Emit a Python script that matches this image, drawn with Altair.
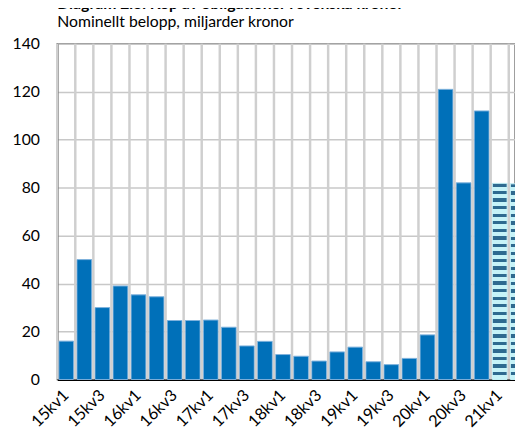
import altair as alt
import pandas as pd

quarters = ["15kv1", "15kv2", "15kv3", "15kv4", "16kv1", "16kv2", "16kv3", "16kv4",
            "17kv1", "17kv2", "17kv3", "17kv4", "18kv1", "18kv2", "18kv3", "18kv4",
            "19kv1", "19kv2", "19kv3", "19kv4", "20kv1", "20kv2", "20kv3", "20kv4",
            "21kv1", "21kv2"]
values = [16, 50, 30, 39, 35.3, 34.5, 24.6, 24.6,
          24.8, 21.8, 14, 15.9, 10.4, 9.7, 7.7, 11.5,
          13.5, 7.4, 6.2, 8.8, 18.6, 121, 82, 112,
          81.8, 81.6]
forecast = [False] * 24 + [True, True]

df = pd.DataFrame({"kvartal": quarters, "belopp": values, "prognos": forecast})

FONT = "Lato"

# horizontal stripe gradient for the forecast bars
n_stripes = 26
stops = []
for k in range(n_stripes):
    a = k / n_stripes
    m = (k + 0.45) / n_stripes
    b = (k + 1) / n_stripes
    stops.append(alt.GradientStop(color="#2e6a90", offset=a))
    stops.append(alt.GradientStop(color="#2e6a90", offset=m))
    stops.append(alt.GradientStop(color="#c6f3f8", offset=m))
    stops.append(alt.GradientStop(color="#c6f3f8", offset=b))
stripes = alt.Gradient(gradient="linear", x1=0, y1=0, x2=0, y2=1, stops=stops)

x_scale = alt.Scale(range=[0, 477], paddingInner=0, paddingOuter=0)

x_enc = alt.X(
    "kvartal:N",
    sort=quarters,
    title=None,
    scale=x_scale,
    axis=alt.Axis(
        labelAngle=-45,
        labelAlign="right",
        labelBaseline="middle",
        labelExpr="test(/kv[13]$/, datum.label) ? datum.label : ''",
        labelFontSize=16.5,
        labelFont=FONT,
        labelColor="#000000",
        labelPadding=13,
        ticks=False,
        grid=False,
        domain=True,
        domainColor="#000000",
        domainWidth=2,
        labelOverlap=False,
    ),
)
y_enc = alt.Y(
    "belopp:Q",
    title=None,
    scale=alt.Scale(domain=[0, 140], nice=False),
    axis=alt.Axis(
        values=[0, 20, 40, 60, 80, 100, 120, 140],
        labelFontSize=16,
        labelFont=FONT,
        labelColor="#000000",
        labelPadding=18,
        ticks=False,
        grid=True,
        gridColor="#c8c8c8",
        gridWidth=1.5,
        domainColor="#000000",
        domainWidth=1.5,
    ),
)

# vertical separators at the band boundaries (midway in the gaps)
separators = alt.Chart(df).mark_rule(
    color="#cfcfcf", strokeWidth=2.5
).encode(
    x=alt.X("kvartal:N", sort=quarters, bandPosition=0, title=None)
)

base = alt.Chart(df).encode(x=x_enc, y=y_enc)

BAR_W = alt.RelativeBandSize(0.82)
solid = base.transform_filter("!datum.prognos").mark_bar(
    color="#0070b9", stroke="#7fb2dc", strokeWidth=1, width=BAR_W
)
hatched = base.transform_filter("datum.prognos").mark_bar(
    fill=stripes, stroke="#c6f3f8", strokeWidth=1, width=BAR_W
)

chart = (
    alt.layer(solid, hatched, separators)
    .properties(
        width=465,
        height=341,
        autosize=alt.AutoSizeParams(type="none"),
        padding={"left": 50, "top": 33, "right": 0, "bottom": 52},
        title=alt.TitleParams(
            text="Diagram 2.3. Köp av obligationer i svenska kronor",
            subtitle="Nominellt belopp, miljarder kronor",
            anchor="start",
            frame="group",
            font=FONT,
            fontSize=16,
            fontWeight="bold",
            color="#000000",
            subtitleFont=FONT,
            subtitleFontSize=16,
            subtitleColor="#000000",
            subtitlePadding=2,
            offset=6,
        ),
    )
    .configure_view(stroke="#7f7f7f", strokeWidth=1.5)
)

chart.save("out.html", embed_options={"renderer": "svg", "actions": False})
